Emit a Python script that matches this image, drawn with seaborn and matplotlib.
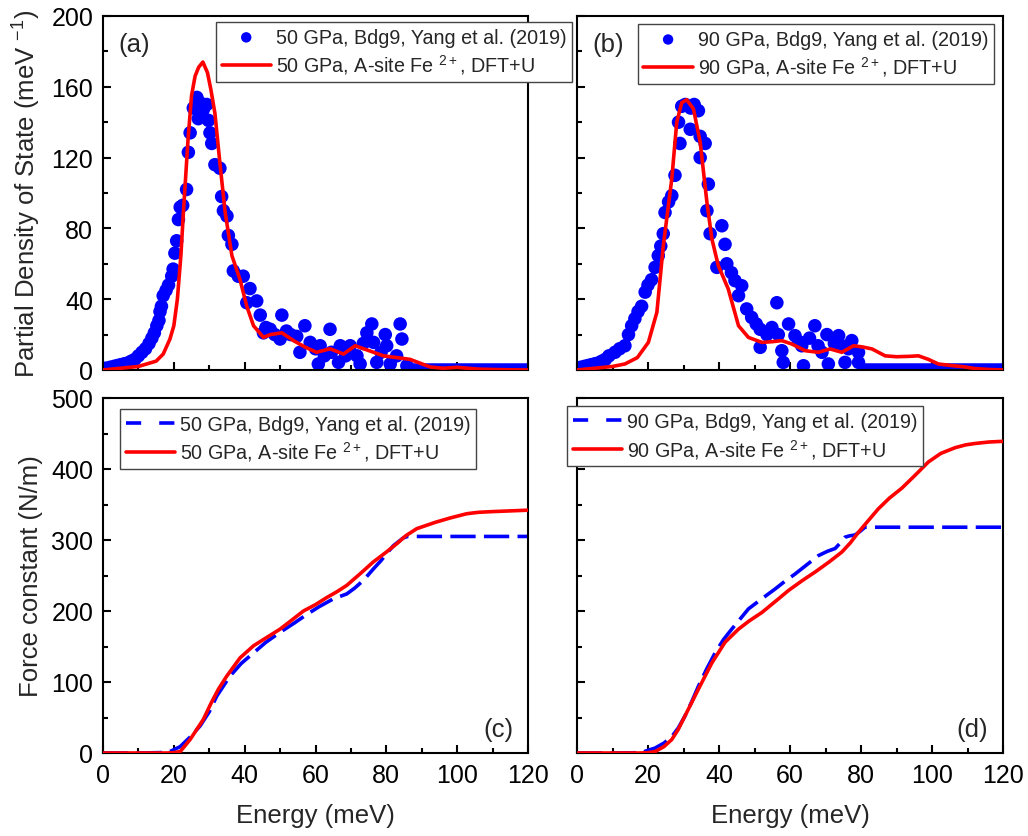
import numpy as np
import pandas as pd
import matplotlib
matplotlib.use("Agg")
import matplotlib.pyplot as plt
import seaborn as sns
from matplotlib.ticker import MultipleLocator

# ---------------- data ----------------
# (a) 50 GPa PDOS, experiment (dots)
a_exp_E = [0, 1, 2, 3, 4, 5, 6, 7, 8, 9, 10, 11, 12, 13, 13.8, 14.5, 15.2, 15.8, 16.1, 16.5,
           17, 17.8, 18.5, 19.4, 19.8, 20.3, 20.8, 21.3, 21.8, 22.5, 23.6, 24.1, 24.6, 25.5,
           26.5, 26.9, 27.4, 28.3, 29.3, 29.8, 30.2, 30.7, 31.6, 33, 33.5, 34, 35, 35.4, 36.4,
           36.8, 38.2, 39.6, 40.6, 41.5, 43.4, 44.4, 45.3, 46, 47.2, 48.5, 50, 50.5, 51.8, 53,
           54.7, 55.6, 57, 58.5, 60, 60.8, 61.3, 62.5, 64.1, 64.5, 66.5, 67, 68.5, 69.8, 71.7,
           72.6, 73.5, 74.5, 75.9, 76.4, 77.3, 78.5, 79.7, 80.1, 81.1, 82.9, 83.9, 84.4, 85.8,
           87, 88, 89, 90, 91, 92, 93, 94, 95, 96, 97, 98, 99, 100, 101, 102, 103, 104, 105,
           106, 107, 108, 109, 110, 111, 112, 113, 114, 115, 116, 117, 118, 119, 120]
a_exp_D = [1, 1, 1.5, 2, 2.5, 3, 3.5, 4, 5, 6, 8, 10, 12, 15, 18, 21, 25, 28, 33, 36,
           42, 45, 48, 53, 57, 66, 73, 85, 92, 93, 102, 123, 134, 148,
           154, 142, 151, 147, 150, 141, 134, 128, 116, 114, 98, 90, 87, 76, 71,
           56, 53, 53, 38, 46, 39, 31, 21, 24, 23, 20, 17.5, 31, 22, 20,
           19, 10, 25, 15.6, 12, 3.4, 13.7, 8, 23, 10, 4.3, 13.7, 8, 13.7, 8,
           3.4, 15, 21, 26, 15.6, 4.3, 10, 20, 13.7, 3.4, 8, 26, 17.5, 2.4,
           0, 0, 0, 0, 0, 0, 0, 0, 0, 0, 0, 0, 0, 0, 0, 0, 0, 0, 0,
           0, 0, 0, 0, 0, 0, 0, 0, 0, 0, 0, 0, 0, 0, 0]
# (a) 50 GPa PDOS, DFT+U (line)
a_dft_E = [0, 5, 10, 15, 17, 18.9, 20, 21, 22, 22.7, 24, 25, 26, 27, 28.2, 29.5, 30.5, 31.6,
           33, 34.5, 36.4, 38.7, 40.6, 42.5, 45.3, 47.2, 50.5, 53.8, 57, 60.3, 64.1, 67.9,
           71.2, 75, 79.2, 83, 86.7, 90, 92.4, 96, 100, 103, 106, 110, 115, 120]
a_dft_D = [0, 1, 2, 5, 9, 17.5, 25, 40, 65, 89, 130, 155, 166, 171, 174, 168, 158, 145,
           117, 89, 64.6, 51, 36, 25, 18.4, 20, 21, 16.6, 13, 10, 12, 9,
           13.7, 11, 8, 7, 6, 3.5, 1.7, 1, 1.5, 1, 0.5, 0.3, 0.1, 0]

# (b) 90 GPa PDOS, experiment (dots)
b_exp_E = [0, 1, 2, 3, 4, 5, 6, 7, 8, 9, 10.7, 12, 13.5, 14.5, 15.4, 16.3, 17.2, 18.2, 19.2,
           20, 21, 22, 22.9, 23.6, 24.3, 24.8, 25.8, 26.7, 27.6, 28.6, 29, 29.5, 30.5, 31.9,
           32, 33, 34.2, 34.7, 34.7, 36.1, 36.6, 37, 37.5, 39.4, 40.8, 41.7, 42.2, 43.5,
           44.5, 45.5, 46.4, 47.8, 49.2, 50.5, 51.6, 51.6, 53.5, 54.9, 56.3, 56.7, 57.7,
           58.1, 59.6, 61.4, 62.5, 63.3, 63.8, 65.5, 67, 67.9, 69, 70.4, 70.8, 72.5, 73.7,
           74.6, 75.5, 76.5, 77.4, 79.3, 79.3,
           81, 82, 83, 84, 85, 86, 87, 88, 89, 90, 91, 92, 93, 94, 95, 96, 97, 98, 99, 100,
           101, 102, 103, 104, 105, 106, 107, 108, 109, 110, 111, 112, 113, 114, 115, 116,
           117, 118, 119, 120]
b_exp_D = [1, 1.5, 2, 2.5, 3, 3.5, 4, 5, 6, 8, 10, 12, 13.7, 20, 25, 29, 33, 36, 44,
           48, 51, 58, 64.6, 70, 77, 89, 95, 98.5, 110, 140, 128, 149, 150, 136,
           148, 150, 146.5, 132, 120, 128, 90, 105, 77, 58, 81.5, 71, 60, 55,
           50.5, 42, 47.6, 34.5, 29.7, 26, 23, 12.8, 20, 24, 38, 20, 10.9,
           4.3, 26, 19.4, 16, 13.7, 2.4, 18, 25, 13.7, 10, 20, 3.4, 15, 19.4,
           13.7, 4.3, 12, 16.6, 10, 4.3,
           0, 0, 0, 0, 0, 0, 0, 0, 0, 0, 0, 0, 0, 0, 0, 0, 0, 0, 0, 0,
           0, 0, 0, 0, 0, 0, 0, 0, 0, 0, 0, 0, 0, 0, 0, 0,
           0, 0, 0, 0]
# (b) 90 GPa PDOS, DFT+U (line)
b_dft_E = [0, 5, 10, 13.5, 17, 20.1, 22.5, 24.3, 26.7, 28.1, 29.5, 30.9, 32.8, 34.7, 36.6,
           38, 39.8, 42.6, 45.5, 48.3, 52.1, 55, 57.7, 60.5, 64.3, 68, 71.3, 74.6, 77.9,
           80.5, 83.1, 86.8, 90, 93.4, 96.2, 99, 101.8, 105.6, 109, 112.2, 116, 120]
b_dft_D = [0, 1, 2, 3.4, 7, 15.6, 32.6, 70, 108, 140, 151, 152.7, 147.5, 128.6, 94.7,
           74, 59, 45.8, 25, 18.4, 15.6, 16, 16.6, 14.7, 10.9, 10, 11.9, 10, 13.7,
           13, 11.9, 8, 7.5, 7.7, 8, 6, 3.4, 2.5, 1.8, 0.8, 0.3, 0]

# (c) 50 GPa force constant
c_exp_E = [0, 10, 16, 18.9, 21.8, 24.5, 27.4, 30, 32.1, 35.8, 39, 42.5, 46, 50, 54, 57.5,
           61, 65, 68.8, 71, 73.5, 76.3, 78.5, 80.1, 82, 84.8, 86, 90, 100, 110, 120]
c_exp_F = [0, 0, 0.5, 2, 9, 22, 38, 58, 80, 108, 126, 141, 156, 170, 183, 195,
           206, 217, 224, 232, 243, 259, 271, 281, 292, 303, 305, 305, 305, 305, 305]
c_dft_E = [0, 10, 18, 20, 21.8, 24.6, 28.3, 30.5, 32.6, 34.9, 38.7, 42.5, 46, 50, 53,
           56.6, 60, 63.2, 66, 68.8, 72.5, 76.3, 80, 83, 85.5, 88.6, 93.9, 98, 102.7,
           106, 110, 115, 120]
c_dft_F = [0, 0, 0, 0.5, 2, 19, 47, 70, 90, 108, 134, 151, 162, 174.5, 186,
           200, 209, 219, 227, 236, 252, 269, 283, 295, 306, 316, 325, 331, 337,
           339, 340, 341, 342]

# (d) 90 GPa force constant
d_exp_E = [0, 10, 16, 18.3, 22, 24.5, 26.7, 28.5, 30.4, 32.3, 34.2, 36.5, 38.9, 41.3, 43.6,
           46, 48.3, 52, 55.8, 58.6, 61.4, 64.7, 68, 70.5, 72.7, 74.2, 75.5, 76.9, 78.3,
           79.7, 81.1, 90, 100, 110, 120]
d_exp_F = [0, 0, 0.3, 1, 7, 14, 23, 35, 52, 72, 94, 118, 141, 160, 174.5,
           189, 203, 217, 231, 242, 252, 265, 278, 284, 288, 296, 304, 306, 307,
           312, 318, 318, 318, 318, 318]
d_dft_E = [0, 10, 18, 20, 22, 24.5, 26.7, 28.5, 30.4, 34.2, 38, 41.7, 45.5, 48.5, 52.1,
           56, 59.6, 63.5, 67.1, 71, 74.6, 77, 79.3, 82, 84.9, 88, 91.5, 95, 99, 102.5,
           106.5, 109.5, 112.2, 116, 120]
d_dft_F = [0, 0, 0, 0.5, 2, 9, 19, 33, 52, 90, 127, 156, 174.5, 186, 198,
           214, 229, 243, 255, 269, 283, 296, 311, 327, 344, 359, 373, 390, 410, 422,
           430, 434, 436, 438, 439]

# labels
exp_labels = ["50 GPa, Bdg9, Yang et al. (2019)", "90 GPa, Bdg9, Yang et al. (2019)"]
dft_labels = ["50 GPa, A-site Fe $^{2+}$, DFT+U", "90 GPa, A-site Fe $^{2+}$, DFT+U"]
panel_labels = ["(a)", "(b)", "(c)", "(d)"]
x_ticks = [0, 20, 40, 60, 80, 100, 120]

# ---------------- style ----------------
sns.set_style("ticks")
plt.rcParams["font.family"] = ["Liberation Sans", "DejaVu Sans"]
plt.rcParams["mathtext.fontset"] = "custom"
plt.rcParams["mathtext.rm"] = "Liberation Sans"
plt.rcParams["mathtext.it"] = "Liberation Sans:italic"
plt.rcParams["mathtext.bf"] = "Liberation Sans:bold"
plt.rcParams["axes.linewidth"] = 1.5
plt.rcParams["axes.edgecolor"] = "black"

BLUE = "#0000ff"
RED = "#ff0000"
TICK_FS = 18
LAB_FS = 18.5
LEG_FS = 14.2
DASH = (0, (7, 2.3))
LEG_DASH = (0, (4.2, 5))

fig = plt.figure(figsize=(10.28, 8.37), dpi=100)
W, H = 1028, 837


def rect(l, r, t, b):
    return [l / W, 1 - b / H, (r - l) / W, (b - t) / H]


ax_a = fig.add_axes(rect(103, 528, 17, 371))
ax_b = fig.add_axes(rect(577, 1003, 17, 371))
ax_c = fig.add_axes(rect(103, 528, 399, 754))
ax_d = fig.add_axes(rect(577, 1003, 399, 754))


def style_axis(ax, ymax, ymaj, ymin, show_x, show_y):
    ax.set_xlim(0, 120)
    ax.set_ylim(0, ymax)
    ax.xaxis.set_major_locator(MultipleLocator(20))
    ax.xaxis.set_minor_locator(MultipleLocator(10))
    ax.yaxis.set_major_locator(MultipleLocator(ymaj))
    ax.yaxis.set_minor_locator(MultipleLocator(ymin))
    ax.tick_params(which="both", direction="in", top=False, right=False,
                   width=1.5, labelsize=TICK_FS, colors="black", pad=7)
    ax.tick_params(which="major", length=6)
    ax.tick_params(which="minor", length=3.5)
    if not show_x:
        ax.tick_params(axis="x", labelbottom=False)
    if not show_y:
        ax.tick_params(axis="y", labelleft=False)
    for s in ax.spines.values():
        s.set_visible(True)
        s.set_linewidth(1.5)
        s.set_color("black")
    ax.set_xlabel("")
    ax.set_ylabel("")


def make_legend(ax, handles, labels, anchor):
    leg = ax.legend(handles, labels, loc="upper left", bbox_to_anchor=anchor,
                    borderaxespad=0, fontsize=LEG_FS, frameon=True, fancybox=False,
                    edgecolor="#444444", framealpha=1, handlelength=2.5,
                    handletextpad=0.25, borderpad=0.28, labelspacing=0.3,
                    markerscale=0.77)
    leg.get_frame().set_linewidth(1.0)
    leg.set_zorder(10)
    return leg


# PDOS panels
for ax, eE, eD, dE, dD, i, anchor in [
        (ax_a, a_exp_E, a_exp_D, a_dft_E, a_dft_D, 0, (0.266, 0.983)),
        (ax_b, b_exp_E, b_exp_D, b_dft_E, b_dft_D, 1, (0.143, 0.977))]:
    sns.scatterplot(x=eE, y=eD, ax=ax, color=BLUE, s=95, edgecolor="none",
                    linewidth=0, label=exp_labels[i], zorder=2)
    sns.lineplot(x=dE, y=dD, ax=ax, color=RED, lw=2.6, estimator=None,
                 sort=True, label=dft_labels[i], zorder=3)
    style_axis(ax, 200, 40, 20, False, i == 0)
    handles, labels = ax.get_legend_handles_labels()
    make_legend(ax, handles, labels, anchor)

# Force constant panels
for ax, eE, eF, dE, dF, i, anchor in [
        (ax_c, c_exp_E, c_exp_F, c_dft_E, c_dft_F, 0, (0.04, 0.969)),
        (ax_d, d_exp_E, d_exp_F, d_dft_E, d_dft_F, 1, (-0.023, 0.977))]:
    sns.lineplot(x=eE, y=eF, ax=ax, color=BLUE, lw=2.6, estimator=None, sort=True,
                 label=exp_labels[i], zorder=2)
    ax.lines[-1].set_linestyle(DASH)
    sns.lineplot(x=dE, y=dF, ax=ax, color=RED, lw=2.6, estimator=None, sort=True,
                 label=dft_labels[i], zorder=3)
    style_axis(ax, 500, 100, 50, True, i == 0)
    ax.set_xticks(x_ticks)
    handles, labels = ax.get_legend_handles_labels()
    leg = make_legend(ax, handles, labels, anchor)
    leg.get_lines()[0].set_linestyle(LEG_DASH)
    ax.set_xlabel("Energy (meV)", fontsize=LAB_FS, labelpad=12)

# panel labels
for ax, lab in [(ax_a, panel_labels[0]), (ax_b, panel_labels[1])]:
    ax.text(0.035, 0.955, lab, transform=ax.transAxes, fontsize=18.5, ha="left", va="top")
for ax, lab in [(ax_c, panel_labels[2]), (ax_d, panel_labels[3])]:
    ax.text(0.965, 0.035, lab, transform=ax.transAxes, fontsize=18.5, ha="right", va="bottom")

ax_a.set_ylabel("Partial Density of State (meV $^{-1}$)", fontsize=LAB_FS, labelpad=6)
ax_c.set_ylabel("Force constant (N/m)", fontsize=LAB_FS, labelpad=6)
fig.align_ylabels([ax_a, ax_c])

fig.savefig("out.png", dpi=100)
